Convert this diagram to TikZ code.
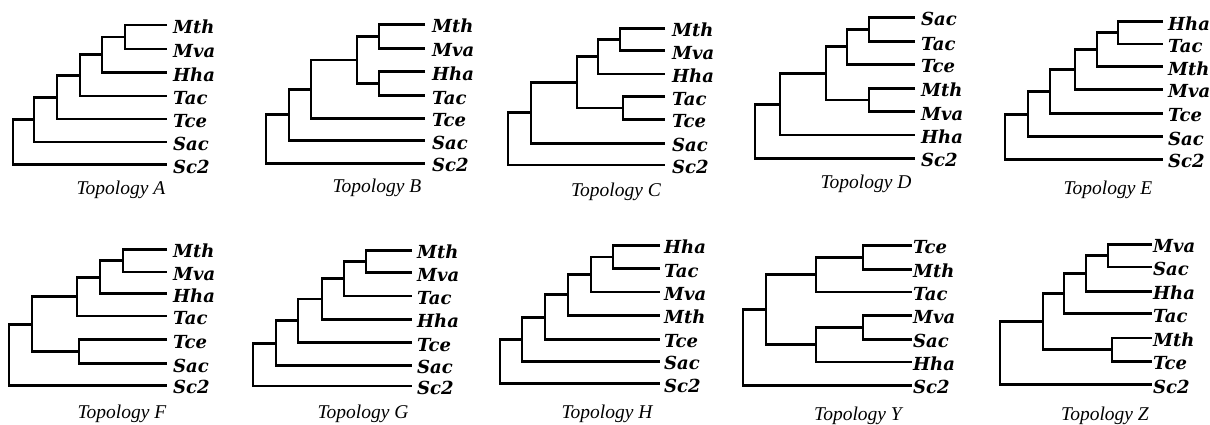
\documentclass[tikz,border=0pt]{standalone}
\usepackage{fontspec}
\usetikzlibrary{calc}
\newfontfamily\labfamily{DejaVu Serif}
\newfontfamily\capfamily{Liberation Serif}
\tikzset{
  br/.style={line width=2.9pt, line join=miter},
  lab/.style={inner sep=0pt, anchor=base west, font=\labfamily\bfseries\itshape\fontsize{18}{20}\selectfont},
  captxt/.style={inner sep=0pt, anchor=base, font=\capfamily\itshape\fontsize{19.5}{22}\selectfont}
}
% leaf: prefix, text, x, y, gap
\newcommand\lf[5]{%
  \coordinate (#1#2) at (#3,#4);
  \node[lab] (#1#2-l) at ([xshift=#5pt, yshift=-8.5pt]#1#2) {#2};}
% join: name, x, child1, child2
\newcommand\jn[4]{%
  \coordinate (#1m) at ($(#3)!0.5!(#4)$);
  \coordinate (#1) at (#2,0 |- #1m);
  \draw[br] (#3) -| (#1) |- (#4);}
\begin{document}
\begin{tikzpicture}[x=1pt,y=-1pt]
\useasboundingbox (0,0) rectangle (1210,424);
% ---------- Topology A
\lf{a}{Mth}{167}{25}{6}\lf{a}{Mva}{167}{49}{6}\lf{a}{Hha}{167}{72.5}{6}
\lf{a}{Tac}{167}{96}{6}\lf{a}{Tce}{167}{119}{6}\lf{a}{Sac}{167}{142}{6}\lf{a}{Sc2}{167}{164.5}{6}
\jn{a1}{125}{aMth}{aMva}\jn{a2}{102}{a1}{aHha}\jn{a3}{80}{a2}{aTac}
\jn{a4}{57}{a3}{aTce}\jn{a5}{34}{a4}{aSac}\jn{a6}{13}{a5}{aSc2}
\node[captxt] (capA) at (121,194) {Topology A};
% ---------- Topology B
\lf{b}{Mth}{425}{24.3}{7}\lf{b}{Mva}{425}{48.3}{7}\lf{b}{Hha}{425}{71.7}{7}
\lf{b}{Tac}{425}{95.7}{7}\lf{b}{Tce}{425}{118.3}{7}\lf{b}{Sac}{425}{140.5}{7}\lf{b}{Sc2}{425}{163.3}{7}
\jn{b1}{379}{bMth}{bMva}\jn{b2}{379}{bHha}{bTac}\jn{b3}{357}{b1}{b2}
\jn{b4}{311}{b3}{bTce}\jn{b5}{289}{b4}{bSac}\jn{b6}{266}{b5}{bSc2}
\node[captxt] (capB) at (377,192) {Topology B};
% ---------- Topology C
\lf{c}{Mth}{665}{28.3}{7}\lf{c}{Mva}{665}{50.7}{7}\lf{c}{Hha}{665}{74}{7}
\lf{c}{Tac}{665}{96.7}{7}\lf{c}{Tce}{665}{119.3}{7}\lf{c}{Sac}{665}{143.3}{7}\lf{c}{Sc2}{665}{165}{7}
\jn{c1}{620}{cMth}{cMva}\jn{c2}{598}{c1}{cHha}\jn{c3}{623}{cTac}{cTce}
\jn{c4}{577}{c2}{c3}\jn{c5}{531}{c4}{cSac}\jn{c6}{508}{c5}{cSc2}
\node[captxt] (capC) at (616,196) {Topology C};
% ---------- Topology D
\lf{d}{Sac}{915}{17.3}{6}\lf{d}{Tac}{915}{41.7}{6}\lf{d}{Tce}{915}{64.3}{6}
\lf{d}{Mth}{915}{88.3}{6}\lf{d}{Mva}{915}{111.7}{6}\lf{d}{Hha}{915}{135}{6}\lf{d}{Sc2}{915}{158.3}{6}
\jn{d1}{869}{dSac}{dTac}\jn{d2}{847}{d1}{dTce}\jn{d3}{869}{dMth}{dMva}
\jn{d4}{826}{d2}{d3}\jn{d5}{780}{d4}{dHha}\jn{d6}{755}{d5}{dSc2}
\node[captxt] (capD) at (866,188) {Topology D};
% ---------- Topology E
\lf{e}{Hha}{1163}{21.7}{5}\lf{e}{Tac}{1163}{44}{5}\lf{e}{Mth}{1163}{66.7}{5}
\lf{e}{Mva}{1163}{89.3}{5}\lf{e}{Tce}{1163}{113.3}{5}\lf{e}{Sac}{1163}{136.7}{5}\lf{e}{Sc2}{1163}{159.3}{5}
\jn{e1}{1118}{eHha}{eTac}\jn{e2}{1097}{e1}{eMth}\jn{e3}{1075}{e2}{eMva}
\jn{e4}{1050}{e3}{eTce}\jn{e5}{1028}{e4}{eSac}\jn{e6}{1005}{e5}{eSc2}
\node[captxt] (capE) at (1108,194) {Topology E};
% ---------- Topology F
\lf{f}{Mth}{167}{249.3}{6}\lf{f}{Mva}{167}{272}{6}\lf{f}{Hha}{167}{293.7}{6}
\lf{f}{Tac}{167}{316}{6}\lf{f}{Tce}{167}{339.7}{6}\lf{f}{Sac}{167}{363.7}{6}\lf{f}{Sc2}{167}{385.3}{6}
\jn{f1}{123}{fMth}{fMva}\jn{f2}{100}{f1}{fHha}\jn{f3}{77}{f2}{fTac}
\jn{f4}{79}{fTce}{fSac}\jn{f5}{32}{f3}{f4}\jn{f6}{9}{f5}{fSc2}
\node[captxt] (capF) at (122,418) {Topology F};
% ---------- Topology G
\lf{g}{Mth}{412}{250.3}{5}\lf{g}{Mva}{412}{272.7}{5}\lf{g}{Tac}{412}{296}{5}
\lf{g}{Hha}{412}{319.3}{5}\lf{g}{Tce}{412}{342.7}{5}\lf{g}{Sac}{412}{365.3}{5}\lf{g}{Sc2}{412}{386}{5}
\jn{g1}{366}{gMth}{gMva}\jn{g2}{344}{g1}{gTac}\jn{g3}{322}{g2}{gHha}
\jn{g4}{298}{g3}{gTce}\jn{g5}{276}{g4}{gSac}\jn{g6}{253}{g5}{gSc2}
\node[captxt] (capG) at (363,418) {Topology G};
% ---------- Topology H
\lf{h}{Hha}{660}{245.3}{4}\lf{h}{Tac}{660}{268.7}{4}\lf{h}{Mva}{660}{292}{4}
\lf{h}{Mth}{660}{315.3}{4}\lf{h}{Tce}{660}{339.3}{4}\lf{h}{Sac}{660}{361.3}{4}\lf{h}{Sc2}{660}{383.7}{4}
\jn{h1}{613}{hHha}{hTac}\jn{h2}{591}{h1}{hMva}\jn{h3}{568}{h2}{hMth}
\jn{h4}{545}{h3}{hTce}\jn{h5}{522}{h4}{hSac}\jn{h6}{500}{h5}{hSc2}
\node[captxt] (capH) at (607,418) {Topology H};
% ---------- Topology Y
\lf{y}{Tce}{912}{245.3}{1}\lf{y}{Mth}{912}{269.3}{1}\lf{y}{Tac}{912}{292}{1}
\lf{y}{Mva}{912}{315.3}{1}\lf{y}{Sac}{912}{339.3}{1}\lf{y}{Hha}{912}{362}{1}\lf{y}{Sc2}{912}{385.3}{1}
\jn{y1}{863}{yTce}{yMth}\jn{y2}{816}{y1}{yTac}\jn{y3}{863}{yMva}{ySac}
\jn{y4}{816}{y3}{yHha}\jn{y5}{766}{y2}{y4}\jn{y6}{743}{y5}{ySc2}
\node[captxt] (capY) at (858,420) {Topology Y};
% ---------- Topology Z
\lf{z}{Mva}{1152}{244.3}{1}\lf{z}{Sac}{1152}{267}{1}\lf{z}{Hha}{1152}{291.3}{1}
\lf{z}{Tac}{1152}{313.7}{1}\lf{z}{Mth}{1152}{338}{1}\lf{z}{Tce}{1152}{361.3}{1}\lf{z}{Sc2}{1152}{384.7}{1}
\jn{z1}{1108}{zMva}{zSac}\jn{z2}{1086}{z1}{zHha}\jn{z3}{1064}{z2}{zTac}
\jn{z4}{1112}{zMth}{zTce}\jn{z5}{1043}{z3}{z4}\jn{z6}{1000}{z5}{zSc2}
\node[captxt] (capZ) at (1105,420) {Topology Z};
\end{tikzpicture}
\end{document}
